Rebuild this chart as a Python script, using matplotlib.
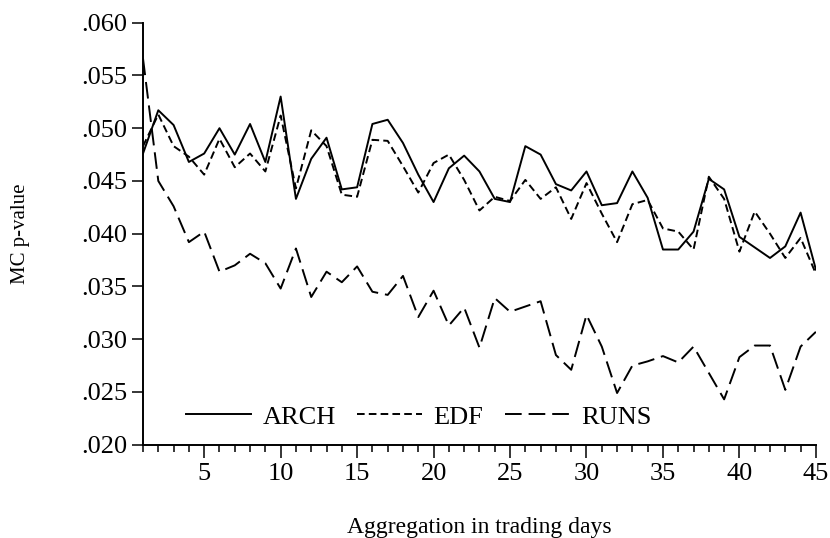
''' MC p-values against aggregation level '''
import numpy as np
import matplotlib
matplotlib.use('Agg')
import matplotlib.pyplot as plt
from matplotlib.ticker import FuncFormatter, MultipleLocator

plt.rcParams['font.family'] = ['Liberation Serif', 'DejaVu Serif']
plt.rcParams['lines.scale_dashes'] = False

days = np.arange(1, 46)

arch = [0.0476, 0.0517, 0.0503, 0.0468, 0.0476, 0.0500, 0.0475, 0.0504, 0.0468, 0.0530,
        0.0433, 0.0471, 0.0491, 0.0442, 0.0444, 0.0504, 0.0508, 0.0486, 0.0456, 0.0430,
        0.0462, 0.0474, 0.0459, 0.0433, 0.0430, 0.0483, 0.0475, 0.0447, 0.0441, 0.0459,
        0.0427, 0.0429, 0.0459, 0.0434, 0.0385, 0.0385, 0.0402, 0.0452, 0.0442, 0.0397,
        0.0387, 0.0377, 0.0388, 0.0420, 0.0366]

edf = [0.0483, 0.0513, 0.0483, 0.0473, 0.0456, 0.0490, 0.0463, 0.0476, 0.0459, 0.0512,
       0.0443, 0.0498, 0.0483, 0.0437, 0.0435, 0.0489, 0.0488, 0.0464, 0.0439, 0.0467,
       0.0475, 0.0451, 0.0422, 0.0435, 0.0431, 0.0451, 0.0433, 0.0444, 0.0414, 0.0448,
       0.0419, 0.0392, 0.0428, 0.0432, 0.0405, 0.0402, 0.0385, 0.0454, 0.0433, 0.0383,
       0.0421, 0.0400, 0.0377, 0.0396, 0.0362]

runs = [0.0566, 0.0450, 0.0426, 0.0392, 0.0402, 0.0364, 0.0370, 0.0381, 0.0372, 0.0348,
        0.0386, 0.0340, 0.0364, 0.0354, 0.0369, 0.0345, 0.0342, 0.0360, 0.0321, 0.0346,
        0.0313, 0.0330, 0.0292, 0.0339, 0.0326, 0.0331, 0.0336, 0.0285, 0.0271, 0.0323,
        0.0293, 0.0249, 0.0275, 0.0279, 0.0284, 0.0278, 0.0293, 0.0268, 0.0243, 0.0283,
        0.0294, 0.0294, 0.0252, 0.0293, 0.0307]

fig = plt.figure(figsize=(8.3, 5.38), dpi=100)
ax = fig.add_axes([0.1723, 0.1734, 0.8107, 0.7844])

ax.plot(days, arch, color='black', lw=1.4, ls='-', label='ARCH')
ax.plot(days, edf, color='black', lw=1.4, ls=(0, (5.5, 3)), label='EDF')
ax.plot(days, runs, color='black', lw=1.4, ls=(0, (12, 5)), label='RUNS')

ax.set_xlim(1, 45)
ax.set_ylim(0.020, 0.060)
ax.xaxis.set_major_locator(MultipleLocator(5))
ax.xaxis.set_minor_locator(MultipleLocator(1))
ax.yaxis.set_major_locator(MultipleLocator(0.005))
ax.yaxis.set_major_formatter(FuncFormatter(lambda v, p: ('%.3f' % v).lstrip('0')))

for s in ['top', 'right']:
    ax.spines[s].set_visible(False)
for s in ['left', 'bottom']:
    ax.spines[s].set_linewidth(1.4)

ax.tick_params(axis='both', which='major', labelsize=19, width=1.1, direction='out')
ax.tick_params(axis='x', which='major', length=9, pad=4)
ax.tick_params(axis='x', which='minor', length=5, width=1.1)
ax.tick_params(axis='y', which='major', length=8, pad=3)

ax.set_xlabel('Aggregation in trading days', fontsize=17, labelpad=23)
ax.set_ylabel('MC p-value', fontsize=15, labelpad=37)

ax.legend(loc='center', bbox_to_anchor=(0.41, 0.066), ncol=3, frameon=False,
          fontsize=19, handlelength=2.45, handletextpad=0.45, columnspacing=0.8,
          borderpad=0, borderaxespad=0)

fig.savefig('out.png', dpi=100)
